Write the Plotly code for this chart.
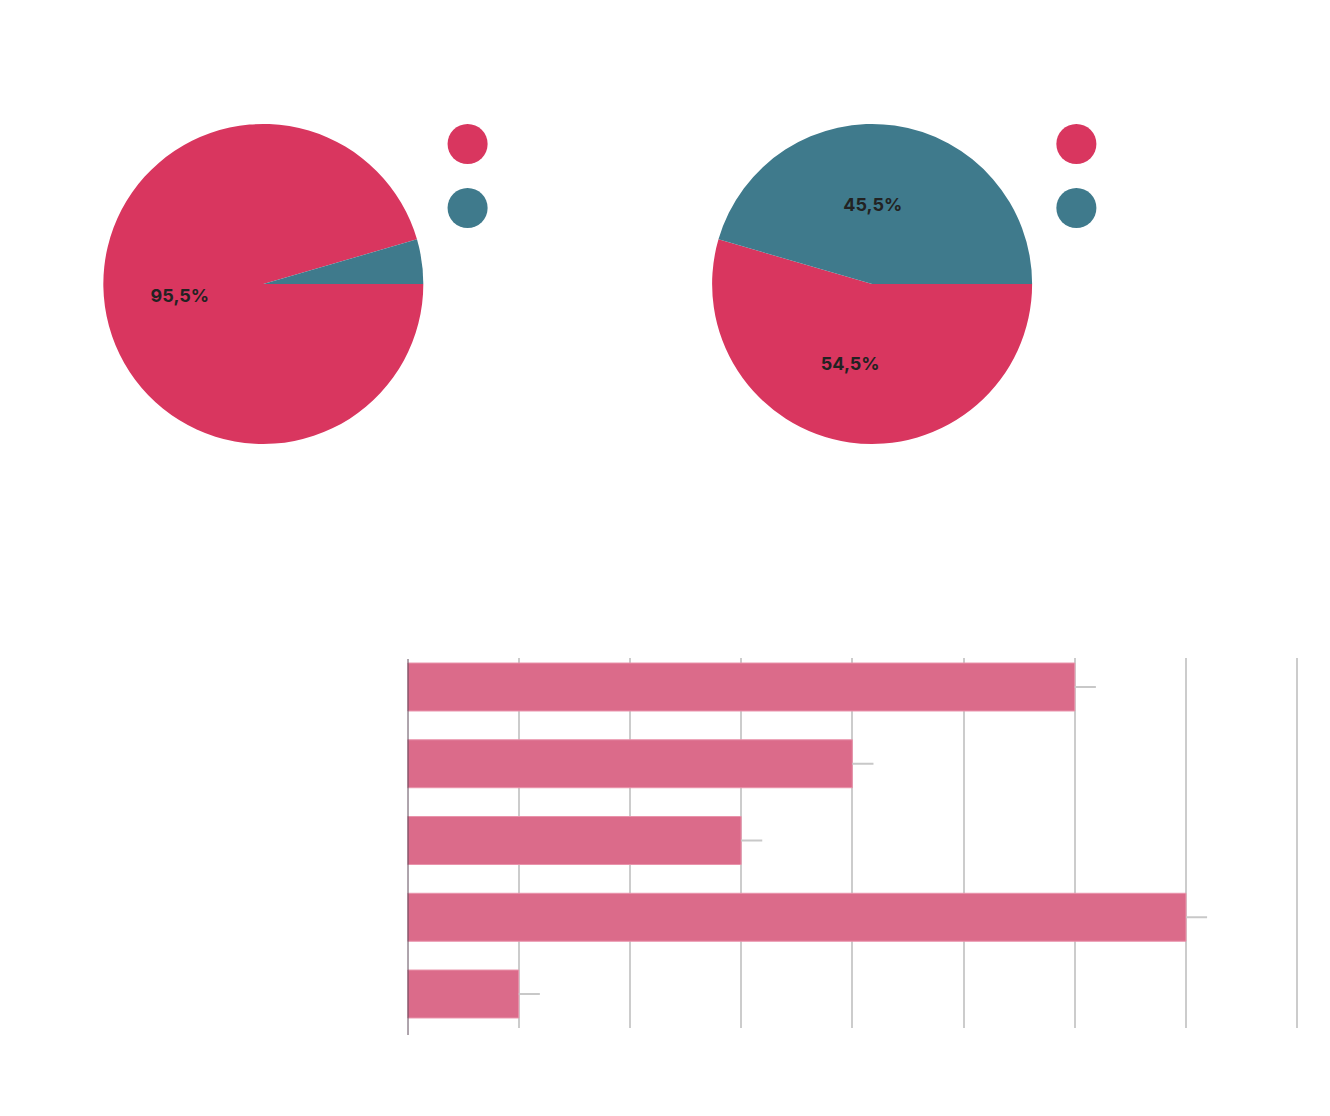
import plotly.graph_objects as go

# ---- data ----
pie_labels = ["Sí", "No"]
pie1_values = [95.5, 4.5]
pie2_values = [54.5, 45.5]
bar_categories = ["Opción A", "Opción B", "Opción C", "Opción D", "Opción E"]
bar_values = [6, 4, 3, 7, 1]
leader_len = [0.19, 0.19, 0.19, 0.19, 0.19]

RED = "#d9365f"
TEAL = "#3f7a8c"
BAR = "#db6b8a"
W, H = 1330, 1116

# screen-pixel -> paper helpers (compensate page offset)
OX, SX, OY = 12.0, 0.9942, 8.0


def px_x(x):
    return ((x - OX) / SX) / W


def px_y(y):
    return 1 - (y - OY) / H


fig = go.Figure()

pie_common = dict(
    labels=pie_labels,
    sort=False,
    direction="clockwise",
    rotation=90,
    marker=dict(colors=[RED, TEAL], line=dict(width=0)),
    textposition="inside",
    insidetextorientation="horizontal",
    textfont=dict(family="Inter", size=18, color="#222222", weight=700),
    showlegend=False,
    hoverinfo="label+percent",
)

NB = "&nbsp;"
R = 160
fig.add_trace(go.Pie(values=pie1_values,
                     texttemplate="%{percent:.1%}" + NB * 2,
                     domain=dict(x=[px_x(263 - R), px_x(263 + R)], y=[px_y(284 + R), px_y(284 - R)]),
                     **pie_common))
fig.add_trace(go.Pie(values=pie2_values,
                     texttemplate="%{percent:.1%}" + NB * 5,
                     domain=dict(x=[px_x(871 - R), px_x(871 + R)], y=[px_y(284 + R), px_y(284 - R)]),
                     **pie_common))

fig.add_trace(go.Bar(
    x=bar_values,
    y=bar_categories,
    orientation="h",
    marker=dict(color=BAR, line=dict(color="#e993ab", width=1)),
    width=0.625,
    error_x=dict(type="data", symmetric=False, array=leader_len,
                 arrayminus=[0] * len(bar_values), color="#c8c8c8",
                 thickness=2, width=0),
    text=[f"      {v}" for v in bar_values],
    textposition="outside",
    textfont=dict(family="Inter", size=16, color="#ffffff"),
    cliponaxis=False,
    showlegend=False,
))

# legend (circle swatches with white labels as in the reference)
shapes = []
annotations = []
for cx in (467, 1075):
    for cy, col, lab in ((144, RED, pie_labels[0]), (208, TEAL, pie_labels[1])):
        shapes.append(dict(type="circle", xref="paper", yref="paper",
                           x0=px_x(cx - 20), x1=px_x(cx + 20),
                           y0=px_y(cy + 20), y1=px_y(cy - 20),
                           fillcolor=col, line=dict(width=0)))
        annotations.append(dict(xref="paper", yref="paper", x=px_x(cx + 32), y=px_y(cy),
                                text=lab, showarrow=False, xanchor="left", yanchor="middle",
                                font=dict(family="Inter", size=16, color="#ffffff")))

# category axis line (extends a little below the grid, as in the reference)
shapes.append(dict(type="line", xref="x", yref="paper", x0=0, x1=0, layer="above",
                   y0=px_y(1035), y1=px_y(659), line=dict(color="#5f4b5a", width=2)))

XMAX = 8.02
x0_px, x8_px = 407, 1295.5
x_end_px = x0_px + (x8_px - x0_px) * XMAX / 8

fig.update_layout(
    width=W, height=H,
    margin=dict(l=0, r=0, t=0, b=0),
    paper_bgcolor="white",
    plot_bgcolor="white",
    separators=",.",
    uniformtext=dict(minsize=18, mode="hide"),
    shapes=shapes,
    annotations=annotations,
    xaxis=dict(domain=[px_x(x0_px), px_x(x_end_px)], range=[0, XMAX], dtick=1,
               showgrid=True, gridcolor="#cccccc", gridwidth=2,
               zeroline=False, showline=False,
               tickfont=dict(color="#ffffff", family="Inter", size=14)),
    yaxis=dict(domain=[px_y(1028), px_y(658)], range=[4.443, -0.378],
               showgrid=False, zeroline=False, showline=False,
               ticks="", tickfont=dict(color="#ffffff", family="Inter", size=16)),
    font=dict(family="Inter"),
)

fig.write_html("out.html")
